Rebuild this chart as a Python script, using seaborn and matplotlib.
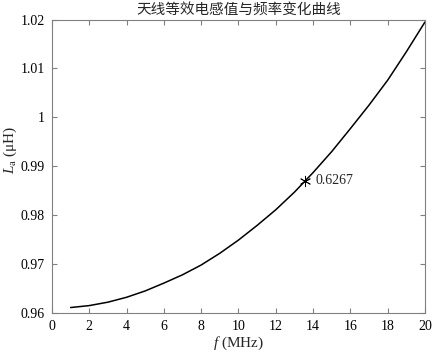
import numpy as np
import pandas as pd
import seaborn as sns
import matplotlib
matplotlib.use("Agg")
import matplotlib.pyplot as plt
from matplotlib.ticker import FuncFormatter, MultipleLocator

# values
freq_mhz = [1, 2, 3, 4, 5, 6, 7, 8, 9, 10, 11, 12, 13, 14, 15, 16, 17, 18, 19, 20]
inductance_uh = [0.9611, 0.9615, 0.9622, 0.9632, 0.9645, 0.9661, 0.9678, 0.9698,
                 0.9722, 0.9749, 0.9779, 0.9811, 0.9847, 0.9887, 0.9930, 0.9977,
                 1.0025, 1.0076, 1.0134, 1.0195]
marker_f = [13.56]
marker_l = [0.9870]
marker_text = "0.6267"
title_text = "天线等效电感值与频率变化曲线"

sns.set_style("ticks")
plt.rcParams['font.family'] = ['Liberation Serif', 'Noto Sans CJK SC', 'DejaVu Sans']
plt.rcParams['mathtext.fontset'] = 'custom'
plt.rcParams['mathtext.rm'] = 'Liberation Serif'
plt.rcParams['mathtext.it'] = 'Liberation Serif:italic'

df = pd.DataFrame({'f': freq_mhz, 'L': inductance_uh})

fig = plt.figure(figsize=(4.33, 3.52), dpi=100)
ax = fig.add_axes([0.120, 0.111, 0.8615, 0.8335])

sns.lineplot(data=df, x='f', y='L', color='black', linewidth=1.1, ax=ax)
ax.plot(marker_f, marker_l, linestyle='none', marker=(6, 2, 0), markersize=8,
        markeredgewidth=0.6, color='black')
ax.annotate(marker_text, xy=(marker_f[0], marker_l[0]), xytext=(8, 0),
            textcoords='offset points', va='center', ha='left', fontsize=10)

ax.set_xlim(0, 20)
ax.set_ylim(0.96, 1.02)
ax.xaxis.set_major_locator(MultipleLocator(2))
ax.yaxis.set_major_locator(MultipleLocator(0.01))
ax.yaxis.set_major_formatter(FuncFormatter(lambda v, p: f"{v:g}"))

grey = '#808080'
for s in ax.spines.values():
    s.set_visible(True)
    s.set_color(grey)
    s.set_linewidth(0.8)
ax.tick_params(direction='in', top=True, right=True, length=3.5, width=0.8,
               color=grey, labelsize=10, labelcolor='black', pad=5)

ax.set_xlabel("$f$ (MHz)", fontsize=11, labelpad=1)
ax.set_ylabel("$L_\\mathrm{a}$ (μH)", fontsize=11)
ax.yaxis.set_label_coords(-0.088, 0.555)
ax.set_title(title_text, fontsize=10.5, family=['Noto Sans CJK SC', 'DejaVu Sans'], pad=4)

fig.savefig("out.png", dpi=100)
